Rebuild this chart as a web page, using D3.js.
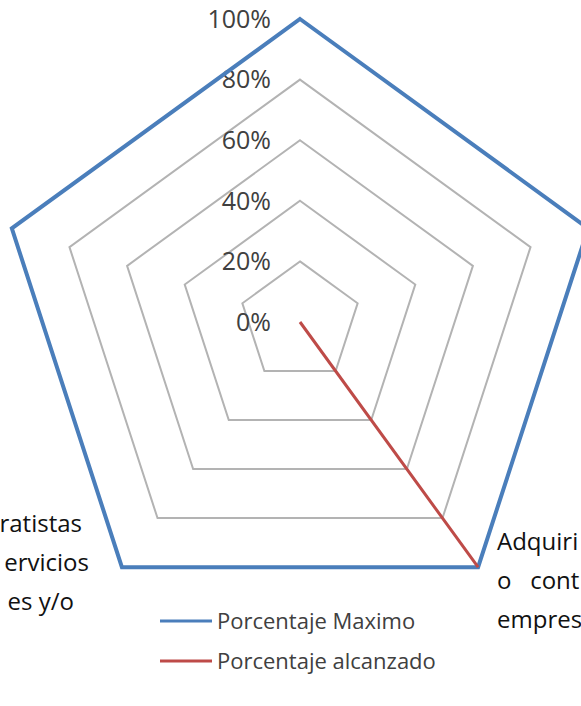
<!DOCTYPE html>
<html>
<head>
<meta charset="utf-8">
<script src="https://cdn.jsdelivr.net/npm/d3@7"></script>
<style>
  body { margin: 0; background: #fff; overflow: hidden; }
  svg { display: block; }
</style>
</head>
<body>
<div id="chart"></div>
<script>
// data (5 axes, only the two bottom labels are visible)
const categories = ["eje1", "eje2", "eje3", "eje4", "eje5"];
const categoryLines = [[], [], ["Adquiri", "o\u00a0\u00a0\u00a0cont", "empres"], ["ratistas", "ervicios", "es y/o"], []];
const seriesNames = ["Porcentaje Maximo", "Porcentaje alcanzado"];
const maxValues = [1, 1, 1, 1, 1];
const reachedValues = [0, 0, 1, 0, 0];
const tickValues = [0, 0.2, 0.4, 0.6, 0.8, 1];

const width = 581, height = 706;
const cx = 300, cy = 322, R = 303;
const colors = ["#4a7ebb", "#be4b48"];

const svg = d3.select("#chart")
  .append("svg")
    .attr("width", width)
    .attr("height", height);

const r = d3.scaleLinear().domain([0, 1]).range([0, R]);
const angle = d3.scalePoint().domain(categories).range([0, 2 * Math.PI * 4 / 5]);

const g = svg.append("g").attr("transform", `translate(${cx},${cy})`);

const radial = d3.lineRadial()
  .angle((d, i) => angle(categories[i]))
  .radius(d => r(d))
  .curve(d3.curveLinearClosed);

// grid pentagons (the 100% ring is covered by the blue series)
g.append("g")
  .selectAll("path")
  .data(tickValues.filter(t => t > 0 && t < 1))
  .join("path")
    .attr("d", t => radial(categories.map(() => t)))
    .attr("fill", "none")
    .attr("stroke", "#b3b3b3")
    .attr("stroke-width", 2);

// tick labels along the top axis
g.append("g")
  .selectAll("text")
  .data(tickValues)
  .join("text")
    .attr("x", -29)
    .attr("y", t => -r(t))
    .attr("dy", "0.35em")
    .attr("text-anchor", "end")
    .style("font-family", "'Open Sans', sans-serif")
    .style("font-size", "25px")
    .attr("fill", "#404040")
    .text(d3.format(".0%"));

// series
const series = [maxValues, reachedValues];
g.append("g")
  .selectAll("path")
  .data(series)
  .join("path")
    .attr("d", d => radial(d))
    .attr("fill", "none")
    .attr("stroke", (d, i) => colors[i])
    .attr("stroke-width", (d, i) => i === 0 ? 4 : 3)
    .attr("stroke-linejoin", "miter");

// category labels (clipped by the picture edge)
const labelPos = [null, null, {x: 497, y: 550, anchor: "start"}, {x: 82, y: 532, anchor: "end"}, null];
categoryLines.forEach((lines, i) => {
  const p = labelPos[i];
  if (!p) return;
  svg.append("text")
    .attr("text-anchor", p.anchor)
    .style("font-family", "'Open Sans', sans-serif")
    .style("font-size", "24px")
    .attr("fill", "#111")
    .selectAll("tspan")
    .data(lines)
    .join("tspan")
      .attr("x", (d, j) => p.anchor === "end" ? p.x + [0, 7, -8][j] : p.x)
      .attr("y", (d, j) => p.y + j * 39)
      .text(d => d);
});

// legend
const legend = svg.append("g").attr("transform", "translate(160,621)");
const item = legend.selectAll("g")
  .data(seriesNames)
  .join("g")
    .attr("transform", (d, i) => `translate(0,${i * 40})`);
item.append("line")
  .attr("x1", 0).attr("x2", 52)
  .attr("stroke", (d, i) => colors[i])
  .attr("stroke-width", 3);
item.append("text")
  .attr("x", 57)
  .attr("dy", "0.35em")
  .style("font-family", "'Open Sans', sans-serif")
  .style("font-size", "22px")
  .attr("fill", "#404040")
  .text(d => d);
</script>
</body>
</html>
